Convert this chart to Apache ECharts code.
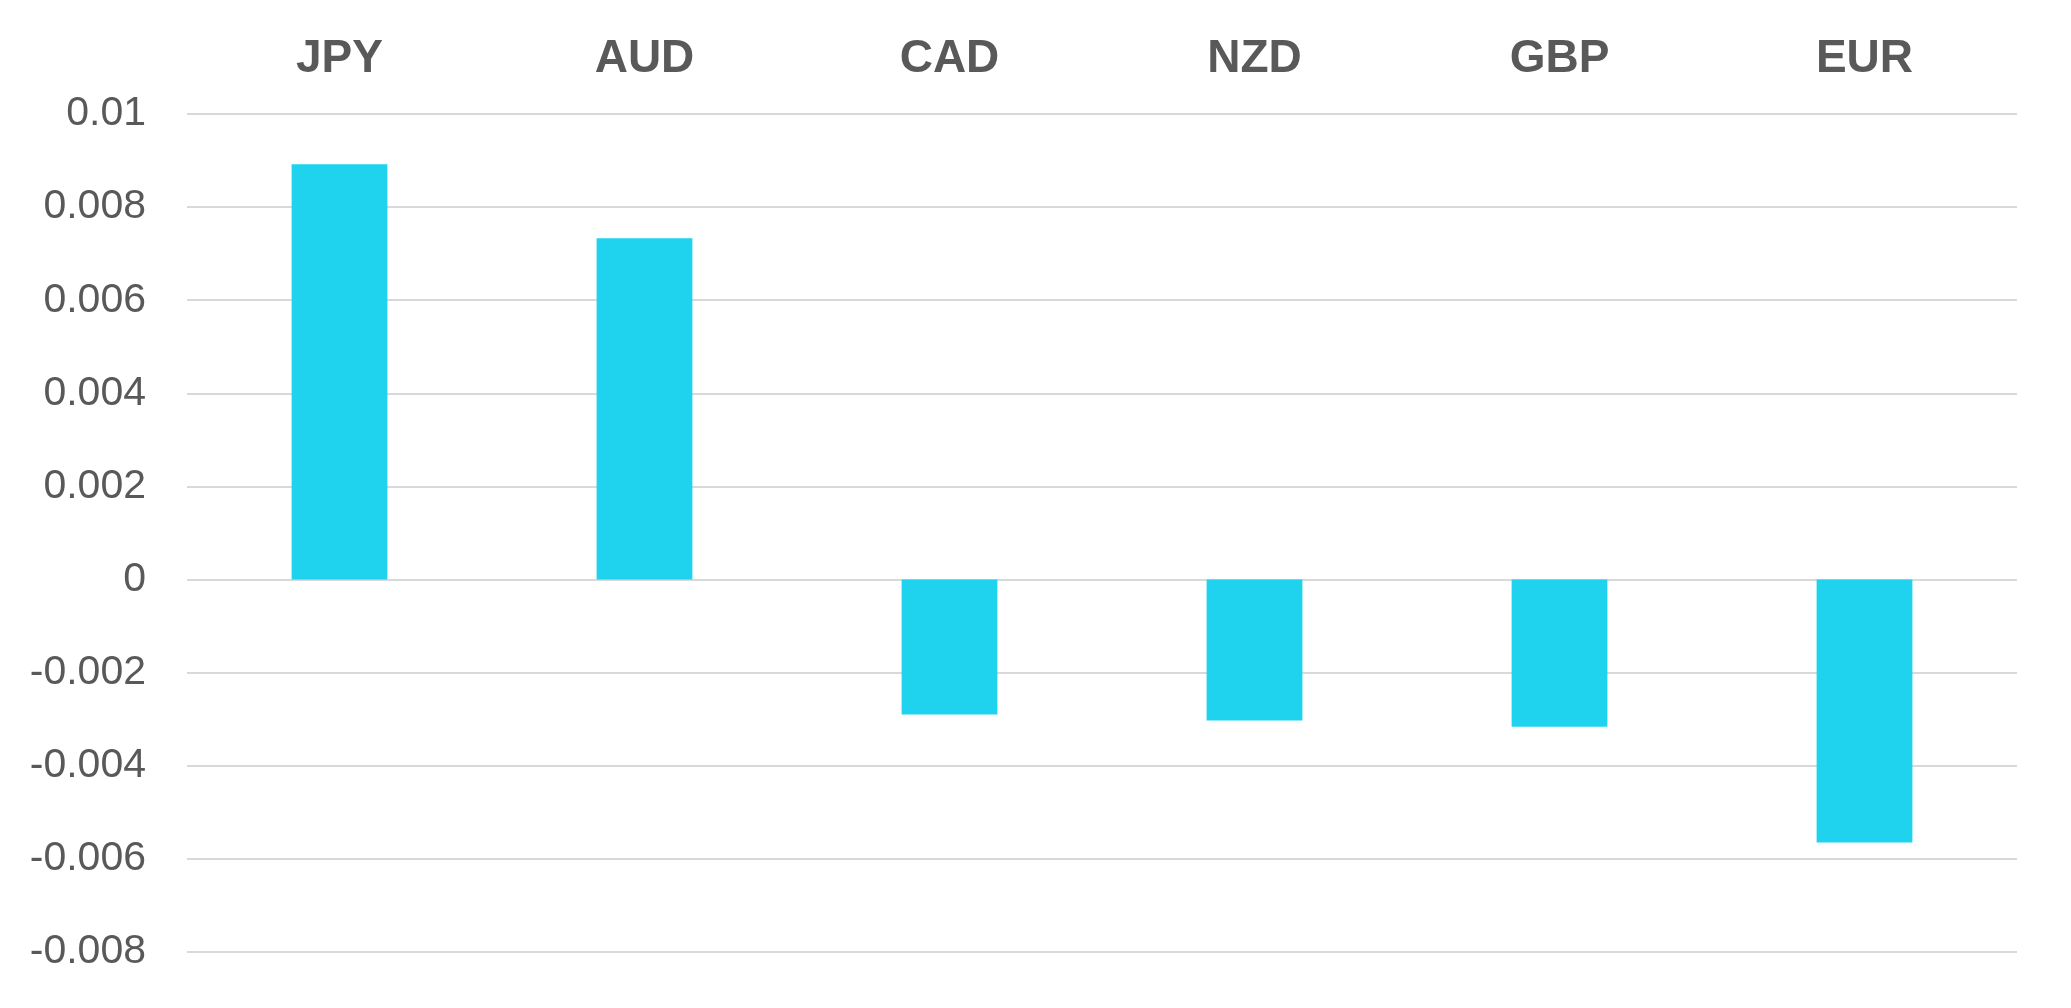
<!DOCTYPE html>
<html>
<head>
<meta charset="utf-8">
<script src="https://cdn.jsdelivr.net/npm/echarts@6/dist/echarts.min.js"></script>
<style>
html,body{margin:0;padding:0;background:#fff;}
#chart{width:2071px;height:1008px;}
</style>
</head>
<body>
<div id="chart"></div>
<script>
const categories = ['JPY', 'AUD', 'CAD', 'NZD', 'GBP', 'EUR'];
const values = [0.00892, 0.00733, -0.0029, -0.00303, -0.00316, -0.00565];
const yMin = -0.008, yMax = 0.01, yStep = 0.002;

const chart = echarts.init(document.getElementById('chart'));
chart.setOption({
  animation: false,
  backgroundColor: '#ffffff',
  grid: { left: 187, right: 54, top: 114, bottom: 56 },
  xAxis: {
    type: 'category',
    data: categories,
    position: 'top',
    axisLine: { show: false },
    axisTick: { show: false },
    axisLabel: {
      color: '#595959',
      fontFamily: 'Liberation Sans',
      fontWeight: 'bold',
      fontSize: 46,
      margin: 32
    }
  },
  yAxis: {
    type: 'value',
    min: yMin, max: yMax, interval: yStep,
    axisLine: { show: false },
    axisTick: { show: false },
    splitLine: { lineStyle: { color: '#d9d9d9', width: 2 } },
    axisLabel: {
      color: '#595959',
      fontFamily: 'Liberation Sans',
      fontSize: 41,
      margin: 41,
      padding: [7, 0, 0, 0],
      formatter: v => String(parseFloat(v.toFixed(4)))
    }
  },
  series: [{
    type: 'bar',
    data: values,
    barWidth: '31.4%',
    itemStyle: { color: '#1fd3ee' }
  }]
});
</script>
</body>
</html>
